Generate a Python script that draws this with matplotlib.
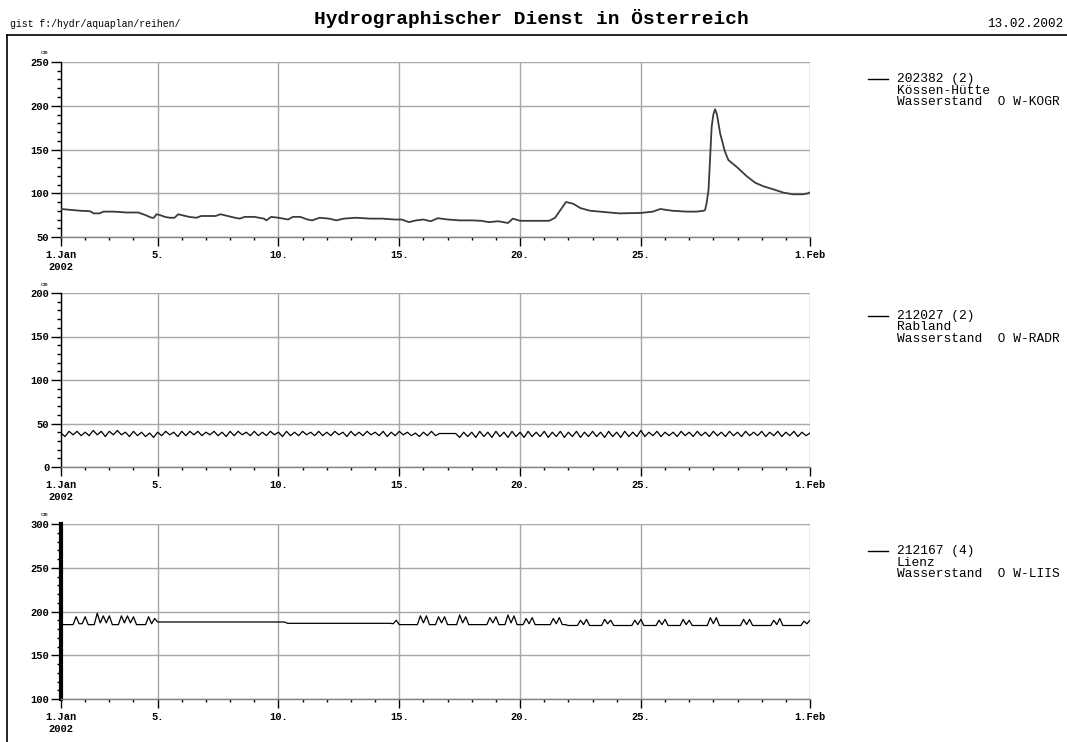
import numpy as np
import matplotlib
matplotlib.use('Agg')
import matplotlib.pyplot as plt
from matplotlib.ticker import MultipleLocator, FixedLocator
from matplotlib.lines import Line2D

plt.rcParams['font.family'] = ['Liberation Mono', 'DejaVu Sans Mono']

# x axis: days since 1 Jan 2002 (0 = 1.Jan, 31 = 1.Feb)
day_ticks = [0, 4, 9, 14, 19, 24, 31]
day_labels = ['1.Jan\n2002', '5.', '10.', '15.', '20.', '25.', '1.Feb']

# 202382 Koessen-Huette, water level in cm (time in days, value)
kg_t = [0.0, 0.4, 0.8, 1.2, 1.35, 1.6, 1.75, 2.2, 2.7, 3.2, 3.5, 3.75, 3.85,
        3.95, 4.1, 4.3, 4.5, 4.7, 4.85, 5.0, 5.3, 5.6, 5.8, 6.1, 6.4, 6.6,
        6.9, 7.2, 7.4, 7.6, 8.0, 8.4, 8.5, 8.7, 9.0, 9.4, 9.6, 9.9, 10.2,
        10.4, 10.7, 11.1, 11.4, 11.7, 12.2, 12.8, 13.3, 13.8, 14.1, 14.4,
        14.7, 15.0, 15.3, 15.6, 16.0, 16.5, 17.0, 17.4, 17.7, 18.1, 18.5,
        18.7, 19.0, 19.6, 20.2, 20.45, 20.7, 20.9, 21.2, 21.5, 21.9, 22.3,
        23.1, 24.0, 24.5, 24.8, 25.3, 25.9, 26.3, 26.6, 26.66, 26.72, 26.8,
        26.93, 27.0, 27.07, 27.15, 27.28, 27.48, 27.62, 27.97, 28.38, 28.73,
        29.07, 29.48, 29.9, 30.3, 30.7, 30.93, 31.0]
kg_v = [82, 81, 80, 79.5, 77, 77, 79, 79, 78, 78, 75, 72, 72,
        76, 75, 73, 72, 72, 76, 75, 73, 72, 74, 74, 74, 76,
        74, 72, 71, 73, 73, 71, 69, 73, 72, 70, 73, 73, 70,
        69, 72, 71, 69, 71, 72, 71, 71, 70, 70, 67,
        69, 70, 68, 71.5, 70, 69, 69, 68.5, 67, 68, 66,
        71, 68.5, 68.5, 68.5, 72, 82, 90, 88, 83, 80, 79,
        77, 77.5, 79, 82, 80, 79, 79, 80, 81, 88.5, 104,
        176, 190, 196, 190, 168.5, 147.5, 138, 130, 119.5, 112,
        108, 104.5, 100.7, 98.8, 98.8, 100, 101]

# 212027 Rabland, water level in cm, every 4 hours
rb_v = [39, 35, 41, 37, 41, 36,
        40, 36, 42, 37, 41, 35,
        41, 37, 42, 37, 40, 35,
        41, 36, 40, 35, 39, 34,
        40, 36, 41, 37, 40, 35,
        41, 36, 41, 37, 41, 36,
        40, 37, 41, 36, 40, 35,
        41, 36, 41, 37, 40, 36,
        41, 36, 40, 36, 41, 37,
        40, 35, 41, 36, 40, 36,
        41, 37, 40, 36, 41, 36,
        40, 36, 41, 37, 40, 35,
        41, 36, 40, 36, 41, 37,
        40, 36, 41, 35, 40, 36,
        41, 37, 40, 36, 39, 35,
        40, 36, 41, 36, 38.5, 38.5,
        38.5, 38.5, 38.5, 34, 40, 35,
        40, 34, 41, 35, 40, 34,
        41, 35, 40, 34, 41, 35,
        40, 34, 41, 35, 40, 35,
        41, 34, 40, 35, 41, 34,
        40, 35, 41, 34, 40, 35,
        41, 35, 40, 34, 41, 35,
        40, 34, 41, 35, 40, 35,
        42, 35, 40, 36, 41, 35,
        40, 36, 40, 35, 41, 36,
        40, 35, 41, 36, 40, 35,
        41, 36, 40, 35, 41, 36,
        40, 35, 41, 36, 40, 36,
        41, 35, 40, 36, 41, 35,
        40, 36, 41, 35, 40, 36,
        39]

# 212167 Lienz, water level in cm, every 3 hours
lz_v = [185, 185, 185, 185, 185, 194, 186, 186,
        194, 185, 185, 185, 198, 187, 195, 187,
        195, 185, 185, 185, 195, 187, 195, 187,
        194, 185, 185, 185, 185, 194, 186, 192,
        188, 188, 188, 188, 188, 188, 188, 188,
        188, 188, 188, 188, 188, 188, 188, 188,
        188, 188, 188, 188, 188, 188, 188, 188,
        188, 188, 188, 188, 188, 188, 188, 188,
        188, 188, 188, 188, 188, 188, 188, 188,
        188, 188, 188, 186.5, 186.5, 186.5, 186.5, 186.5,
        186.5, 186.5, 186.5, 186.5, 186.5, 186.5, 186.5, 186.5,
        186.5, 186.5, 186.5, 186.5, 186.5, 186.5, 186.5, 186.5,
        186.5, 186.5, 186.5, 186.5, 186.5, 186.5, 186.5, 186.5,
        186.5, 186.5, 186.5, 186.5, 186.5, 186.5, 186, 190,
        185, 185, 185, 185, 185, 185, 185, 195,
        187, 195, 185, 185, 185, 194, 187, 194,
        185, 185, 185, 185, 196, 187, 194, 185,
        185, 185, 185, 185, 185, 185, 193, 187,
        194, 185, 185, 185, 196, 187, 195, 185,
        185, 185, 192, 186, 193, 185, 185, 185,
        185, 185, 185, 192, 186, 193, 185, 185,
        184, 184, 184, 184, 190, 185, 191, 184,
        184, 184, 184, 184, 191, 186, 190, 184,
        184, 184, 184, 184, 184, 184, 190, 185,
        191, 184, 184, 184, 184, 184, 190, 185,
        191, 184, 184, 184, 184, 184, 191, 185,
        190, 184, 184, 184, 184, 184, 184, 193,
        186, 193, 184, 184, 184, 184, 184, 184,
        184, 184, 191, 185, 191, 184, 184, 184,
        184, 184, 184, 184, 190, 185, 192, 184,
        184, 184, 184, 184, 184, 184, 189, 186,
        190]

rb_t = np.arange(len(rb_v)) / 6.0
lz_t = np.arange(len(lz_v)) / 8.0

series = [
    (kg_t, kg_v, (50, 250), ['202382 (2)', 'Kössen-Hütte', 'Wasserstand  O W-KOGR'], '#3c3c3c', 1.3),
    (rb_t, rb_v, (0, 200), ['212027 (2)', 'Rabland', 'Wasserstand  O W-RADR'], 'black', 0.9),
    (lz_t, lz_v, (100, 300), ['212167 (4)', 'Lienz', 'Wasserstand  O W-LIIS'], 'black', 0.9),
]

W, H = 1067, 742
fig = plt.figure(figsize=(W / 100, H / 100), dpi=100)
fig.patch.set_facecolor('white')

# panel boxes in pixels: top, bottom ; legend first line y
tops = [62, 293, 524]
bottoms = [237, 467, 699]
legend_y = [79, 316, 551]
x0, x1 = 61, 810

for i, (t, v, ylim, leg, col, lw) in enumerate(series):
    ax = fig.add_axes([x0 / W, 1 - bottoms[i] / H, (x1 - x0) / W, (bottoms[i] - tops[i]) / H])
    ax.plot(t, v, color=col, lw=lw, zorder=3)
    ax.set_xlim(0, 31)
    ax.set_ylim(*ylim)
    ax.xaxis.set_major_locator(FixedLocator(day_ticks))
    ax.set_xticklabels(day_labels)
    ax.xaxis.set_minor_locator(MultipleLocator(1))
    ax.yaxis.set_major_locator(MultipleLocator(50))
    ax.yaxis.set_minor_locator(MultipleLocator(10))
    ax.grid(True, which='major', color='#a8a8a8', lw=1.0, zorder=0)
    for s in ['top', 'right']:
        ax.spines[s].set_visible(False)
    ax.spines['left'].set_color('black')
    ax.spines['left'].set_linewidth(3.0 if i == 2 else 1.0)
    ax.spines['bottom'].set_color('#808080')
    ax.spines['bottom'].set_linewidth(1.0)
    ax.tick_params(axis='x', which='major', length=6.5, width=1, pad=3, labelsize=7.5)
    ax.tick_params(axis='x', which='minor', length=2.2, width=1)
    ax.tick_params(axis='y', which='major', length=7, width=1, pad=1.5, labelsize=7.5)
    ax.tick_params(axis='y', which='minor', length=2.8, width=1)
    for lab in ax.get_xticklabels() + ax.get_yticklabels():
        lab.set_fontweight('bold')
    ax.annotate('cm', xy=(0, 1), xycoords='axes fraction', xytext=(-17, 9),
                textcoords='offset pixels', fontsize=4.5, ha='center', va='center')

    # legend block on the right
    ly = 1 - legend_y[i] / H
    fig.add_artist(Line2D([868 / W, 888 / W], [ly, ly], transform=fig.transFigure,
                          color='black', lw=1.0))
    for k, line in enumerate(leg):
        fig.text(897 / W, 1 - (legend_y[i] + 11.5 * k) / H, line, fontsize=9.3,
                 ha='left', va='center')

# page header and frame
fig.text(10 / W, 1 - 24 / H, 'gist f:/hydr/aquaplan/reihen/', fontsize=7.1,
         ha='left', va='center')
fig.text(531 / W, 1 - 18 / H, 'Hydrographischer Dienst in Österreich', fontsize=14,
         fontweight='bold', ha='center', va='center')
fig.text(1063 / W, 1 - 24 / H, '13.02.2002', fontsize=9.1, ha='right', va='center')
fig.add_artist(Line2D([7 / W, 1], [1 - 35 / H, 1 - 35 / H], transform=fig.transFigure,
                      color='black', lw=1.2))
fig.add_artist(Line2D([7 / W, 7 / W], [0, 1 - 35 / H], transform=fig.transFigure,
                      color='black', lw=1.2))

fig.savefig('out.png', dpi=100)
